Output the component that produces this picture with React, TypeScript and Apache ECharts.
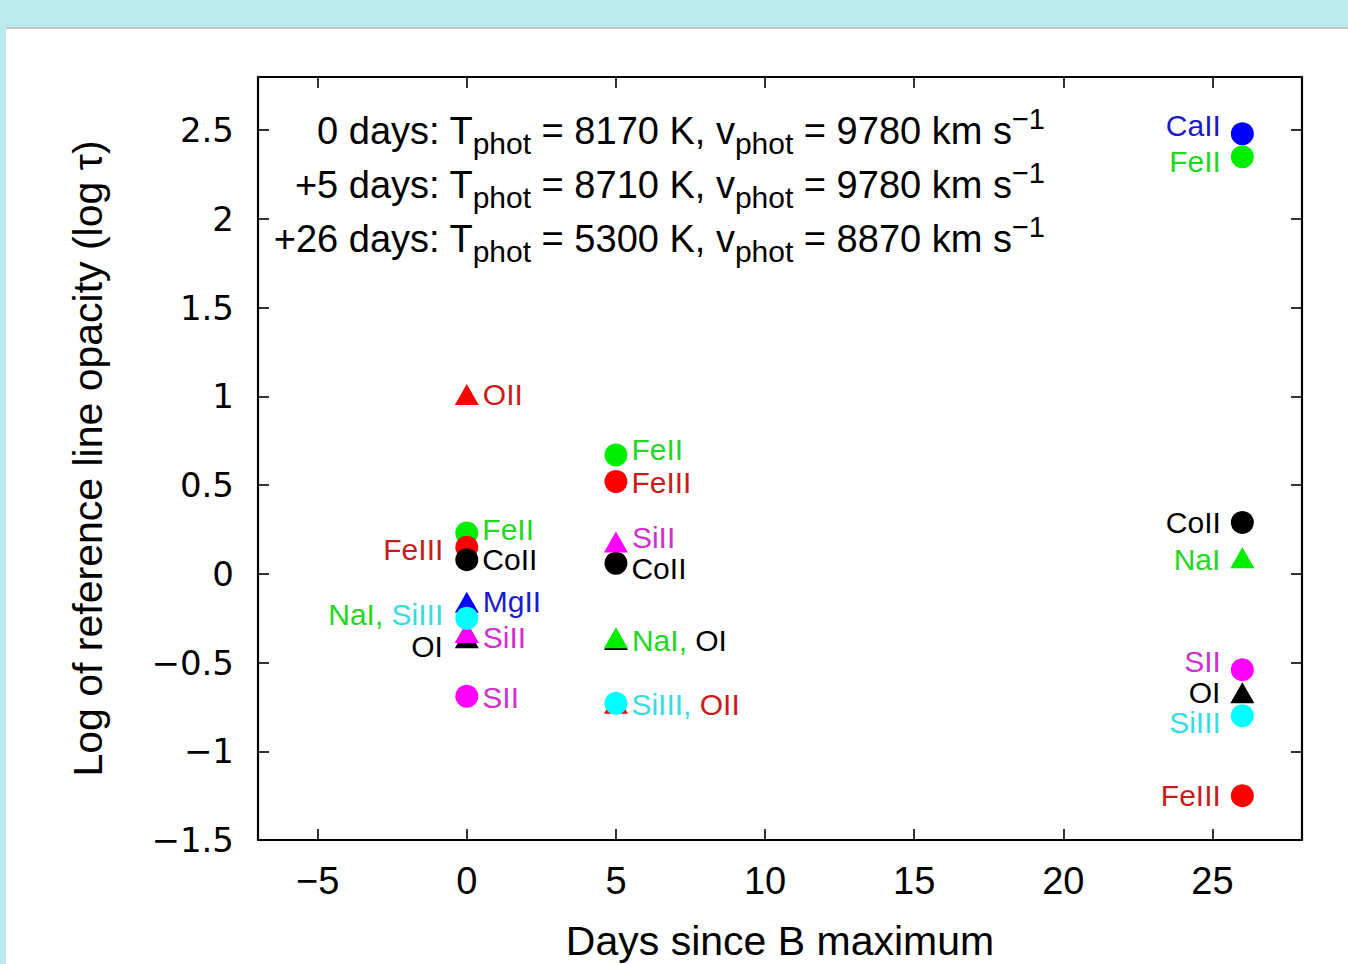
import React, { useEffect, useRef } from "react";
import * as echarts from "echarts";

// ---- axis ticks ----
const xTicks = [-5, 0, 5, 10, 15, 20, 25];
const yTicks = [-1.5, -1, -0.5, 0, 0.5, 1, 1.5, 2, 2.5];

// ---- data: log tau of reference lines at each epoch ----
const days = [0, 5, 26];
const ions0 = ["OII", "FeII", "FeIII", "CoII", "MgII", "NaI", "SiIII", "SiII", "OI", "SII"];
const logTau0 = [1.01, 0.23, 0.15, 0.08, -0.16, -0.33, -0.25, -0.33, -0.36, -0.69];
const ions5 = ["FeII", "FeIII", "SiII", "CoII", "NaI", "OI", "SiIII", "OII"];
const logTau5 = [0.67, 0.52, 0.18, 0.06, -0.36, -0.37, -0.73, -0.73];
const ions26 = ["CaII", "FeII", "CoII", "NaI", "SII", "OI", "SiIII", "FeIII"];
const logTau26 = [2.48, 2.35, 0.29, 0.09, -0.54, -0.67, -0.8, -1.25];

// ---- annotation ----
const annotEpoch = ["0 days", "+5 days", "+26 days"];
const annotT = [8170, 8710, 5300];
const annotV = [9780, 9780, 8870];

// ---- styles ----
const FONT = "'Liberation Sans', Arial, Helvetica, sans-serif";
const ionShape: Record<string, string> = {
  CaII: "circle", FeII: "circle", FeIII: "circle", CoII: "circle", SII: "circle", SiIII: "circle",
  OII: "triangle", OI: "triangle", NaI: "triangle", SiII: "triangle", MgII: "triangle",
};
const ionColor: Record<string, string> = {
  CaII: "#0000ff", FeII: "#00ee00", FeIII: "#ff0000", CoII: "#000000", SII: "#ff00ff", SiIII: "#00ffff",
  OII: "#ff0000", OI: "#000000", NaI: "#00ee00", SiII: "#ff00ff", MgII: "#0000ff",
};
const ionLabelColor: Record<string, string> = {
  CaII: "#1a1acc", FeII: "#22d622", FeIII: "#cc1a1a", CoII: "#000000", SII: "#d030d0", SiIII: "#33dde0",
  OII: "#cc1a1a", OI: "#000000", NaI: "#22d622", SiII: "#d030d0", MgII: "#1a1acc",
};
const drawOrder = ["CaII", "FeII", "FeIII", "CoII", "OII", "OI", "NaI", "SiII", "MgII", "SII", "SiIII"];

// label layout: [side, vertical nudge, combined ions]
const labelLayout: Record<string, [string, number, string[]?]> = {
  "0:OII": ["right", 0],
  "0:FeII": ["right", -4],
  "0:FeIII": ["left", 2],
  "0:CoII": ["right", 0],
  "0:MgII": ["right", -1],
  "0:NaI": ["none", 0],
  "0:SiIII": ["left", -4, ["NaI", "SiIII"]],
  "0:SiII": ["right", 5],
  "0:OI": ["left", 9],
  "0:SII": ["right", 1],
  "5:FeII": ["right", -5],
  "5:FeIII": ["right", 1],
  "5:SiII": ["right", -4],
  "5:CoII": ["right", 5],
  "5:NaI": ["right", 3, ["NaI", "OI"]],
  "5:OI": ["none", 0],
  "5:SiIII": ["right", 1, ["SiIII", "OII"]],
  "5:OII": ["none", 0],
  "26:CaII": ["left", -8],
  "26:FeII": ["left", 5],
  "26:CoII": ["left", 0],
  "26:NaI": ["left", 2],
  "26:SII": ["left", -8],
  "26:OI": ["left", 0],
  "26:SiIII": ["left", 7],
  "26:FeIII": ["left", 0],
};

const minus = (v: number) => (v < 0 ? "\u2212" + Math.abs(v) : String(v));

const LABEL_SIZE = 30;
const richStyles: Record<string, any> = {};
Object.keys(ionLabelColor).forEach((k) => {
  richStyles[k] = { color: ionLabelColor[k], fontSize: LABEL_SIZE, fontFamily: FONT };
});

function buildSeries() {
  const epochIons = [ions0, ions5, ions26];
  const epochTau = [logTau0, logTau5, logTau26];
  return drawOrder.map((ion) => {
    const data: any[] = [];
    days.forEach((d, di) => {
      const idx = epochIons[di].indexOf(ion);
      if (idx < 0) return;
      const lay = labelLayout[d + ":" + ion] || ["right", 0];
      const [side, dy, combo] = lay;
      const text = combo
        ? combo.map((c, i) => `{${c}|${c}${i < combo.length - 1 ? "," : ""}}`).join(" ")
        : ion;
      data.push({
        value: [d, epochTau[di][idx]],
        label: {
          show: side !== "none",
          position: side === "none" ? "right" : side,
          distance: side === "left" ? (d === 26 ? 10 : 12) : 4,
          offset: [0, dy],
          formatter: text,
        },
      });
    });
    const isTri = ionShape[ion] === "triangle";
    return {
      type: "scatter",
      name: ion,
      symbol: ionShape[ion],
      symbolSize: isTri ? [24, 21] : 23,
      itemStyle: { color: ionColor[ion], opacity: 1 },
      label: {
        color: ionLabelColor[ion],
        fontSize: LABEL_SIZE,
        fontFamily: FONT,
        rich: richStyles,
      },
      emphasis: { disabled: true },
      silent: true,
      data,
    };
  });
}

export default function App() {
  const ref = useRef<HTMLDivElement>(null);
  useEffect(() => {
    if (!ref.current) return;
    const chart = echarts.init(ref.current, undefined, { renderer: "svg" });
    const axisLine = { show: true, onZero: false, lineStyle: { color: "#000", width: 2.2 } };
    const tick = (vals: number[]) => ({
      show: true,
      inside: true,
      length: 11,
      customValues: vals,
      lineStyle: { color: "#000", width: 1.6 },
    });
    const option: any = {
      animation: false,
      backgroundColor: "transparent",
      grid: { left: 258, right: 46, top: 77, bottom: 124, containLabel: false, outerBoundsMode: "none" },
      xAxis: [
        {
          type: "value",
          min: -7,
          max: 28,
          position: "bottom",
          axisLine,
          axisTick: tick(xTicks),
          splitLine: { show: false },
          axisLabel: {
            customValues: xTicks,
            formatter: minus,
            fontSize: 38,
            fontFamily: FONT,
            color: "#000",
            margin: 22,
          },
          name: "Days since B maximum",
          nameLocation: "middle",
          nameGap: 80,
          nameTextStyle: { fontSize: 41, fontFamily: FONT, color: "#000" },
        },
        {
          type: "value",
          min: -7,
          max: 28,
          position: "top",
          axisLine,
          axisTick: tick(xTicks),
          splitLine: { show: false },
          axisLabel: { show: false },
        },
      ],
      yAxis: [
        {
          type: "value",
          min: -1.5,
          max: 2.8,
          position: "left",
          axisLine,
          axisTick: tick(yTicks),
          splitLine: { show: false },
          axisLabel: {
            customValues: yTicks,
            formatter: minus,
            fontSize: 34,
            fontFamily: "'DejaVu Sans', sans-serif",
            color: "#000",
            margin: 24,
          },
          name: "Log of reference line opacity (log \u03c4)",
          nameLocation: "middle",
          nameRotate: 90,
          nameGap: 150,
          nameTextStyle: { fontSize: 41, fontFamily: FONT, color: "#000" },
        },
        {
          type: "value",
          min: -1.5,
          max: 2.8,
          position: "right",
          axisLine,
          axisTick: tick(yTicks),
          splitLine: { show: false },
          axisLabel: { show: false },
        },
      ],
      graphic: annotEpoch.map((ep, i) => ({
        type: "text",
        x: 1045,
        y: 131 + i * 54,
        silent: true,
        style: {
          text: `{m|${ep}: T}{s|phot}{m| = ${annotT[i]} K, v}{s|phot}{m| = ${annotV[i]} km s}{p|\u22121}`,
          align: "right",
          verticalAlign: "middle",
          fill: "#000",
          fontFamily: FONT,
          fontSize: 38,
          rich: {
            m: { fontSize: 38, lineHeight: 54, fontFamily: FONT, fill: "#000" },
            s: { fontSize: 30, lineHeight: 26, verticalAlign: "bottom", fontFamily: FONT, fill: "#000" },
            p: { fontSize: 29, lineHeight: 20, verticalAlign: "top", fontFamily: FONT, fill: "#000" },
          },
        },
      })),
      series: buildSeries(),
    };
    chart.setOption(option);
    return () => chart.dispose();
  }, []);

  return (
    <div style={{ position: "fixed", left: 0, top: 0, width: 1348, height: 964, background: "#b9ebec", overflow: "hidden" }}>
      <div
        style={{
          position: "absolute",
          left: 6,
          top: 27,
          right: 0,
          bottom: 0,
          background: "#ffffff",
          borderTop: "2px solid #c4c4c4",
        }}
      />
      <div ref={ref} style={{ position: "absolute", left: 0, top: 0, width: 1348, height: 964 }} />
    </div>
  );
}
